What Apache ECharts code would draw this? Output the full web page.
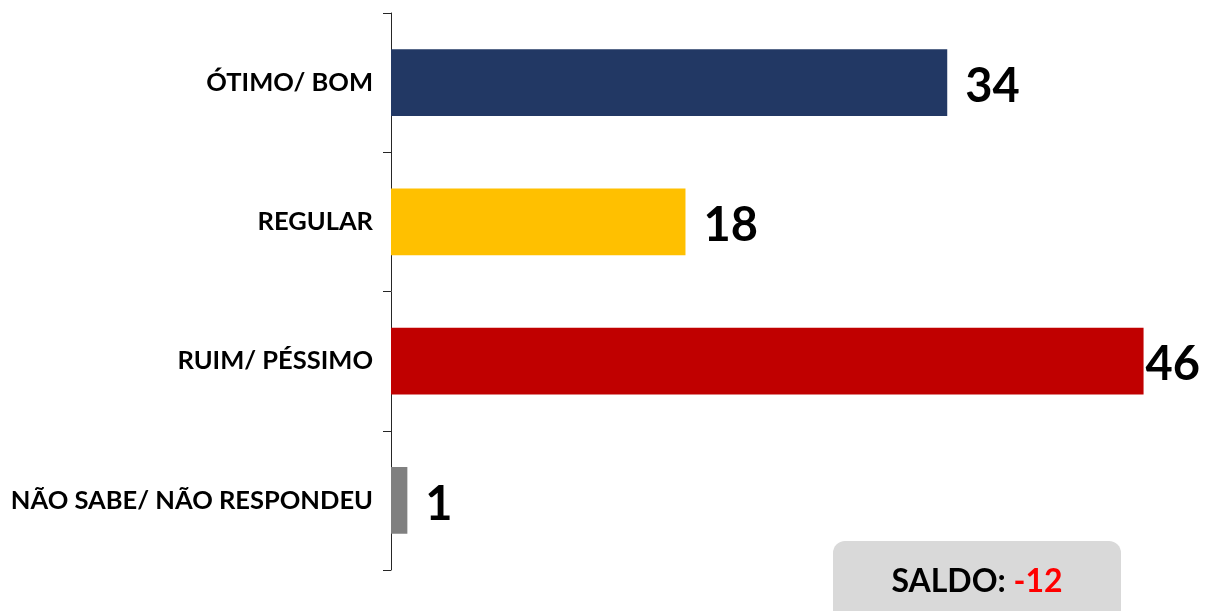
<!DOCTYPE html>
<html>
<head>
<meta charset="utf-8">
<script src="https://cdn.jsdelivr.net/npm/echarts@6/dist/echarts.min.js"></script>
<style>
  html, body { margin: 0; padding: 0; background: #fff; }
  #chart { width: 1209px; height: 611px; }
</style>
</head>
<body>
<div id="chart"></div>
<script>
// categories and values, top to bottom
const categories = ["ÓTIMO/ BOM", "REGULAR", "RUIM/ PÉSSIMO", "NÃO SABE/ NÃO RESPONDEU"];
const values = [34, 18, 46, 1];
const barColors = ["#223864", "#ffc000", "#c00000", "#808080"];
const saldoLabel = "SALDO: ";
const saldoValue = values[0] - values[2]; // -12

const FONT = "Lato";

const chart = echarts.init(document.getElementById("chart"));

chart.setOption({
  backgroundColor: "#ffffff",
  animation: false,
  grid: {
    left: 391,
    top: 13,
    width: 823,
    height: 557
  },
  xAxis: {
    type: "value",
    min: 0,
    max: 50,
    show: false,
    splitLine: { show: false }
  },
  yAxis: {
    type: "category",
    inverse: true,
    data: categories,
    axisLine: {
      show: true,
      lineStyle: { color: "#262626", width: 1 }
    },
    axisTick: {
      show: true,
      length: 8,
      lineStyle: { color: "#262626", width: 1 }
    },
    axisLabel: {
      margin: 18,
      color: "#000",
      fontFamily: FONT,
      fontWeight: "bold",
      fontSize: 25.5
    }
  },
  series: [
    {
      type: "bar",
      barCategoryGap: "52%",
      data: values.map((v, i) => ({
        value: v,
        itemStyle: { color: barColors[i] },
        // the longest bar's label sits tight against it, as in the original
        label: v === Math.max(...values) ? { distance: 2 } : undefined
      })),
      label: {
        show: true,
        position: "right",
        distance: 18,
        offset: [0, 4],
        color: "#000",
        fontFamily: FONT,
        fontWeight: "bold",
        fontSize: 47
      }
    }
  ],
  graphic: [
    {
      type: "rect",
      left: 833,
      top: 541,
      shape: { width: 288, height: 90, r: 12 },
      style: { fill: "#d9d9d9" },
      z: 10
    },
    {
      type: "text",
      x: 977,
      y: 582,
      z: 11,
      style: {
        text: "{a|" + saldoLabel + "}{b|" + saldoValue + "}",
        align: "center",
        verticalAlign: "middle",
        rich: {
          a: { fontFamily: FONT, fontWeight: "bold", fontSize: 32, fill: "#000" },
          b: { fontFamily: FONT, fontWeight: "bold", fontSize: 32, fill: "#ff0000" }
        }
      }
    }
  ]
});
</script>
</body>
</html>
